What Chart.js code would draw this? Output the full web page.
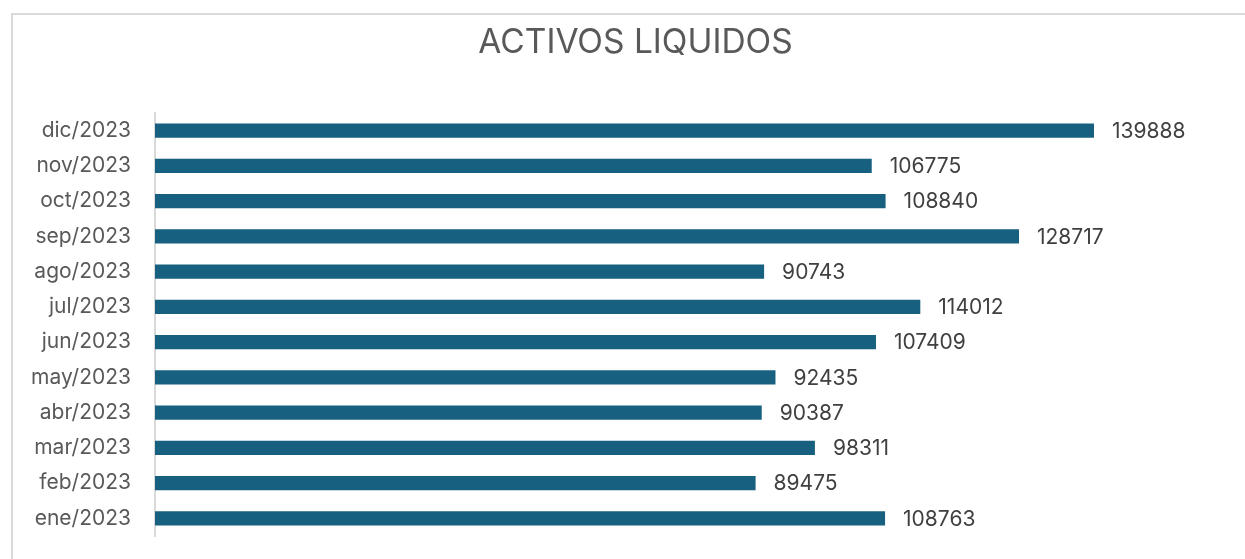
<!DOCTYPE html>
<html>
<head>
<meta charset="utf-8">
<script src="https://cdn.jsdelivr.net/npm/chart.js@4.4.1/dist/chart.umd.min.js"></script>
<style>
  html, body { margin: 0; padding: 0; background: #ffffff; overflow: hidden; }
  #wrap { position: relative; width: 1245px; height: 559px; }
</style>
</head>
<body>
<div id="wrap"><canvas id="c" width="1245" height="559"></canvas></div>
<script>
const categories = ["ene/2023","feb/2023","mar/2023","abr/2023","may/2023","jun/2023","jul/2023","ago/2023","sep/2023","oct/2023","nov/2023","dic/2023"];
const values = [108763, 89475, 98311, 90387, 92435, 107409, 114012, 90743, 128717, 108840, 106775, 139888];
const chartTitle = "ACTIVOS LIQUIDOS";
const axisMax = 160000;

const FONT = "Inter, 'Liberation Sans', Arial, sans-serif";

const frame = {
  id: 'frame',
  beforeDraw(chart) {
    const ctx = chart.ctx;
    ctx.save();
    ctx.fillStyle = '#ffffff';
    ctx.fillRect(0, 0, chart.width, chart.height);
    ctx.strokeStyle = '#d9d9d9';
    ctx.lineWidth = 2;
    ctx.strokeRect(12, 14, chart.width + 100, chart.height + 100);
    ctx.restore();
  },
  afterDraw(chart) {
    const ctx = chart.ctx;
    ctx.save();
    ctx.font = "33.5px " + FONT;
    ctx.fillStyle = '#595959';
    ctx.textAlign = 'center';
    ctx.textBaseline = 'middle';
    ctx.fillText(chartTitle, 635.5, 43);
    ctx.restore();
  }
};

const valueLabels = {
  id: 'valueLabels',
  afterDatasetsDraw(chart) {
    const ctx = chart.ctx;
    const meta = chart.getDatasetMeta(0);
    ctx.save();
    ctx.font = "21px " + FONT;
    ctx.fillStyle = '#404040';
    ctx.textAlign = 'left';
    ctx.textBaseline = 'middle';
    meta.data.forEach((bar, i) => {
      ctx.fillText(String(values[i]), bar.x + 18, bar.y + 1);
    });
    ctx.restore();
  }
};

new Chart(document.getElementById('c'), {
  type: 'bar',
  data: {
    labels: categories,
    datasets: [{
      data: values,
      backgroundColor: '#17607f',
      borderWidth: 0,
      categoryPercentage: 1.0,
      barPercentage: 0.4
    }]
  },
  options: {
    indexAxis: 'y',
    responsive: false,
    animation: false,
    devicePixelRatio: 1,
    layout: { padding: { left: 0, right: 16, top: 113, bottom: 23 } },
    plugins: {
      legend: { display: false },
      tooltip: { enabled: false },
      title: { display: false }
    },
    scales: {
      x: {
        display: false,
        min: 0,
        max: axisMax
      },
      y: {
        reverse: true,
        afterFit(scale) {
          scale.width = 155;
          scale.paddingTop = 0;
          scale.paddingBottom = 0;
        },
        grid: { display: false, drawTicks: false },
        border: { display: true, color: '#d9d9d9', width: 2 },
        ticks: {
          color: '#595959',
          padding: 24,
          font: { family: FONT, size: 21 }
        }
      }
    }
  },
  plugins: [frame, valueLabels]
});
</script>
</body>
</html>
